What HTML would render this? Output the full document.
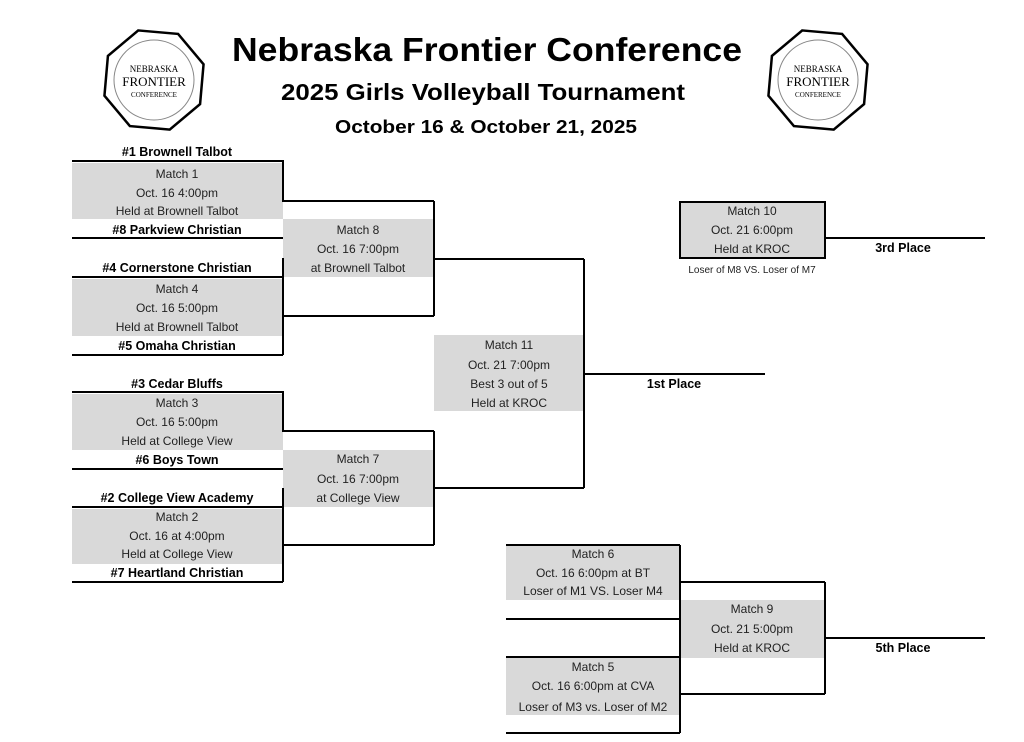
<!DOCTYPE html>
<html><head><meta charset="utf-8"><style>
html,body{margin:0;padding:0;background:#fff;}
svg{display:block;}
text{font-family:"Liberation Sans",sans-serif;fill:#000;}
.n{font-size:12px;text-anchor:middle;fill:#222;}
.b{font-size:12.5px;font-weight:bold;text-anchor:middle;}
</style></head><body>
<svg width="1024" height="742" viewBox="0 0 1024 742" xmlns="http://www.w3.org/2000/svg">
<!-- logos -->
<g transform="translate(154,80)">
<polygon points="-20,-48 20,-48 48,-20 48,20 20,48 -20,48 -48,20 -48,-20" fill="#fff" stroke="#000" stroke-width="2.5" transform="rotate(5)"/>
<circle r="40" fill="none" stroke="#888" stroke-width="1"/>
<text x="0" y="-8" style="font-size:9px;font-family:'Liberation Serif',serif;text-anchor:middle" fill="#333">NEBRASKA</text>
<text x="0" y="6" style="font-size:13px;font-family:'Liberation Serif',serif;text-anchor:middle" fill="#333">FRONTIER</text>
<text x="0" y="17" style="font-size:7px;font-family:'Liberation Serif',serif;text-anchor:middle" fill="#333">CONFERENCE</text>
</g>
<g transform="translate(818,80)">
<polygon points="-20,-48 20,-48 48,-20 48,20 20,48 -20,48 -48,20 -48,-20" fill="#fff" stroke="#000" stroke-width="2.5" transform="rotate(5)"/>
<circle r="40" fill="none" stroke="#888" stroke-width="1"/>
<text x="0" y="-8" style="font-size:9px;font-family:'Liberation Serif',serif;text-anchor:middle" fill="#333">NEBRASKA</text>
<text x="0" y="6" style="font-size:13px;font-family:'Liberation Serif',serif;text-anchor:middle" fill="#333">FRONTIER</text>
<text x="0" y="17" style="font-size:7px;font-family:'Liberation Serif',serif;text-anchor:middle" fill="#333">CONFERENCE</text>
</g>
<!-- titles -->
<text x="487" y="61" style="font-size:33px;font-weight:bold;text-anchor:middle" textLength="510" lengthAdjust="spacingAndGlyphs">Nebraska Frontier Conference</text>
<text x="483" y="100" style="font-size:23px;font-weight:bold;text-anchor:middle" textLength="404" lengthAdjust="spacingAndGlyphs">2025 Girls Volleyball Tournament</text>
<text x="486" y="133" style="font-size:18px;font-weight:bold;text-anchor:middle" textLength="302" lengthAdjust="spacingAndGlyphs">October 16 &amp; October 21, 2025</text>

<!-- gray boxes -->
<g fill="#d9d9d9">
<rect x="72" y="163" width="211" height="56"/>
<rect x="283" y="219" width="151" height="58"/>
<rect x="72" y="279" width="211" height="57"/>
<rect x="434" y="335" width="150" height="76"/>
<rect x="72" y="394" width="211" height="56"/>
<rect x="283" y="450" width="151" height="57"/>
<rect x="72" y="509" width="211" height="55"/>
<rect x="680" y="202" width="145" height="56"/>
<rect x="506" y="546" width="174" height="54"/>
<rect x="680" y="600" width="145" height="58"/>
<rect x="506" y="658" width="174" height="57"/>
</g>
<!-- lines -->
<g stroke="#000" stroke-width="2" fill="none">
<polyline points="72,161 283,161 283,201 434,201"/>
<line x1="72" y1="238" x2="283" y2="238"/>
<polyline points="72,277 283,277"/><line x1="283" y1="258" x2="283" y2="355"/>
<line x1="283" y1="316" x2="434" y2="316"/>
<line x1="72" y1="355" x2="283" y2="355"/>
<polyline points="434,201 434,316"/>
<line x1="434" y1="259" x2="584" y2="259"/>
<polyline points="72,392 283,392 283,431 434,431"/>
<line x1="72" y1="469" x2="283" y2="469"/>
<line x1="72" y1="507" x2="283" y2="507"/><line x1="283" y1="488" x2="283" y2="582"/>
<line x1="283" y1="545" x2="434" y2="545"/>
<line x1="72" y1="582" x2="283" y2="582"/>
<line x1="434" y1="431" x2="434" y2="545"/>
<line x1="434" y1="488" x2="584" y2="488"/>
<line x1="584" y1="259" x2="584" y2="488"/>
<line x1="584" y1="374" x2="765" y2="374"/>
<rect x="680" y="202" width="145" height="56"/>
<line x1="825" y1="238" x2="985" y2="238"/>
<line x1="506" y1="545" x2="680" y2="545"/>
<line x1="680" y1="545" x2="680" y2="733"/>
<line x1="680" y1="582" x2="825" y2="582"/>
<line x1="506" y1="619" x2="680" y2="619"/>
<line x1="506" y1="657" x2="680" y2="657"/>
<line x1="506" y1="733" x2="680" y2="733"/>
<line x1="680" y1="694" x2="825" y2="694"/>
<line x1="825" y1="582" x2="825" y2="694"/>
<line x1="825" y1="638" x2="985" y2="638"/>
</g>

<!-- texts -->
<text class="b" x="177" y="156">#1 Brownell Talbot</text>
<text class="n" x="177" y="178">Match 1</text>
<text class="n" x="177" y="197">Oct. 16 4:00pm</text>
<text class="n" x="177" y="215">Held at Brownell Talbot</text>
<text class="b" x="177" y="234">#8 Parkview Christian</text>
<text class="n" x="358" y="234">Match 8</text>
<text class="n" x="358" y="253">Oct. 16 7:00pm</text>
<text class="n" x="358" y="272">at Brownell Talbot</text>
<text class="b" x="177" y="272">#4 Cornerstone Christian</text>
<text class="n" x="177" y="293">Match 4</text>
<text class="n" x="177" y="312">Oct. 16 5:00pm</text>
<text class="n" x="177" y="331">Held at Brownell Talbot</text>
<text class="b" x="177" y="350">#5 Omaha Christian</text>

<text class="b" x="177" y="388">#3 Cedar Bluffs</text>
<text class="n" x="177" y="407">Match 3</text>
<text class="n" x="177" y="426">Oct. 16 5:00pm</text>
<text class="n" x="177" y="445">Held at College View</text>
<text class="b" x="177" y="464">#6 Boys Town</text>
<text class="n" x="358" y="463">Match 7</text>
<text class="n" x="358" y="483">Oct. 16 7:00pm</text>
<text class="n" x="358" y="502">at College View</text>
<text class="b" x="177" y="502">#2 College View Academy</text>
<text class="n" x="177" y="521">Match 2</text>
<text class="n" x="177" y="540">Oct. 16 at 4:00pm</text>
<text class="n" x="177" y="558">Held at College View</text>
<text class="b" x="177" y="577">#7 Heartland Christian</text>

<text class="n" x="509" y="349">Match 11</text>
<text class="n" x="509" y="369">Oct. 21 7:00pm</text>
<text class="n" x="509" y="388">Best 3 out of 5</text>
<text class="n" x="509" y="407">Held at KROC</text>
<text class="b" x="674" y="388">1st Place</text>

<text class="n" x="752" y="215">Match 10</text>
<text class="n" x="752" y="234">Oct. 21 6:00pm</text>
<text class="n" x="752" y="253">Held at KROC</text>
<text class="n" x="752" y="273" style="font-size:10px">Loser of M8 VS. Loser of M7</text>
<text class="b" x="903" y="252">3rd Place</text>

<text class="n" x="593" y="558">Match 6</text>
<text class="n" x="593" y="577">Oct. 16 6:00pm at BT</text>
<text class="n" x="593" y="595">Loser of M1 VS. Loser M4</text>
<text class="n" x="752" y="613">Match 9</text>
<text class="n" x="752" y="633">Oct. 21 5:00pm</text>
<text class="n" x="752" y="652">Held at KROC</text>
<text class="b" x="903" y="652">5th Place</text>
<text class="n" x="593" y="671">Match 5</text>
<text class="n" x="593" y="690">Oct. 16 6:00pm at CVA</text>
<text class="n" x="593" y="711">Loser of M3 vs. Loser of M2</text>
</svg>
</body></html>
